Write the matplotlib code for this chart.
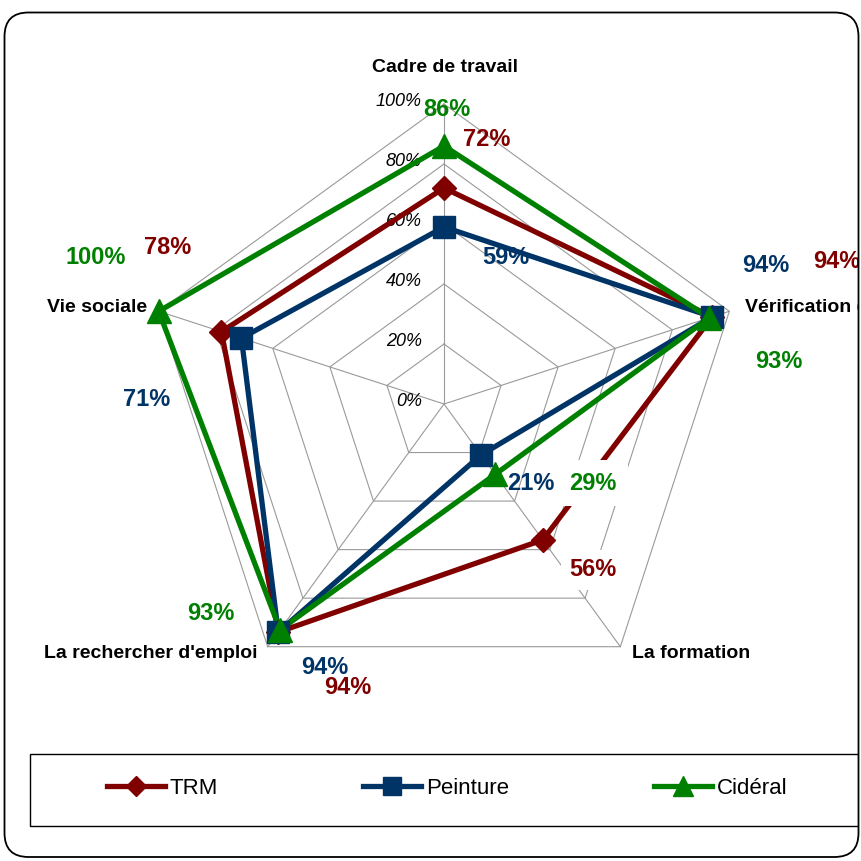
import numpy as np
import matplotlib
matplotlib.use("Agg")
import matplotlib.pyplot as plt
from matplotlib.patches import FancyBboxPatch, Rectangle
from matplotlib.lines import Line2D

plt.rcParams['font.family'] = ['Liberation Sans', 'DejaVu Sans']

# Axes du radar (sens horaire depuis le haut)
categories = ["Cadre de travail", "Vérification des acquis", "La formation",
              "La rechercher d'emploi", "Vie sociale"]
series_names = ["TRM", "Peinture", "Cidéral"]
trm = [72, 94, 56, 94, 78]
peinture = [59, 94, 21, 94, 71]
cideral = [86, 93, 29, 93, 100]
ticks = [0, 20, 40, 60, 80, 100]

colors = ["#800000", "#003366", "#008000"]
markers = ["D", "s", "^"]
msizes = [12.5, 16, 17.5]

W = H = 861
CX, CY, R = 444, 404, 300   # centre et rayon en pixels


def px(x, y):
    # pixels (origine en haut à gauche) -> unités du radar
    return (x - CX) / R, (CY - y) / R


fig = plt.figure(figsize=(W / 100, H / 100), dpi=100)
fig.patch.set_facecolor("white")
ax = fig.add_axes([0, 0, 1, 1])
ax.set_xlim(-CX / R, (W - CX) / R)
ax.set_ylim((CY - H) / R, CY / R)
ax.axis("off")

n = len(categories)
angles = np.deg2rad(90 - 360 / n * np.arange(n))

# grille pentagonale
grid_c = "#9a9a9a"
for t in ticks[1:]:
    r = t / 100
    xs = np.append(r * np.cos(angles), r * np.cos(angles[0]))
    ys = np.append(r * np.sin(angles), r * np.sin(angles[0]))
    ax.plot(xs, ys, color=grid_c, lw=0.8, zorder=1)
for a in angles:
    ax.plot([0, np.cos(a)], [0, np.sin(a)], color=grid_c, lw=0.8, zorder=1)

# graduations
for t in ticks:
    x, y = px(422, CY - R * t / 100 - 2)
    ax.text(x, y, f"{t}%", ha="right", va="center", fontsize=13,
            style="italic", color="black", zorder=2)

# séries
data = [trm, peinture, cideral]
for vals, c, m, ms in zip(data, colors, markers, msizes):
    r = np.array(vals) / 100
    xs = np.append(r * np.cos(angles), r[0] * np.cos(angles[0]))
    ys = np.append(r * np.sin(angles), r[0] * np.sin(angles[0]))
    ax.plot(xs, ys, color=c, lw=3.8, zorder=3, solid_joinstyle="miter")
    ax.plot(xs[:-1], ys[:-1], ls="none", marker=m, ms=ms, color=c,
            mec=c, mew=1, zorder=4)

# étiquettes des axes
cat_pos = [(445, 67, "center"), (745, 307, "left"), (632, 653, "left"),
           (258, 653, "right"), (147, 307, "right")]
for name, (x, y, ha) in zip(categories, cat_pos):
    xx, yy = px(x, y)
    ax.text(xx, yy, name, ha=ha, va="center", fontsize=14,
            fontweight="bold", color="black", zorder=5)

# étiquettes de valeurs : positions par série puis par axe
label_pos = [
    [(487, 140), (837, 262), (593, 570), (348, 688), (168, 247)],
    [(506, 258), (766, 265), (531, 483), (325, 668), (147, 400)],
    [(447, 110), (779, 362), (593, 483), (211, 613), (96, 257)],
]
boxed = {(0, 2): 0.35, (2, 2): 0.5}
for si, (vals, c) in enumerate(zip(data, colors)):
    for ci, v in enumerate(vals):
        x, y = px(*label_pos[si][ci])
        kw = {}
        if (si, ci) in boxed:
            kw["bbox"] = dict(boxstyle=f"square,pad={boxed[(si, ci)]}",
                              fc="white", ec="none")
        ax.text(x, y, f"{v}%", ha="center", va="center", fontsize=17,
                fontweight="bold", color=c, zorder=6, **kw)

# bande blanche à droite du cadre
fig.patches.append(Rectangle((858.5 / W, 0), 3 / W, 1, transform=fig.transFigure,
                             fc="white", ec="none", zorder=8))

# cadre arrondi
fig.patches.append(FancyBboxPatch((4.5 / W, 4 / H), 854 / W, 844.5 / H,
                                  boxstyle=f"round,pad=0,rounding_size={24 / W}",
                                  transform=fig.transFigure, fc="none",
                                  ec="black", lw=1.3, zorder=9))

# boîte de légende
fig.patches.append(Rectangle((30 / W, 1 - 826 / H), 850 / W, 72 / H,
                             transform=fig.transFigure, fc="white",
                             ec="black", lw=1.0, zorder=6))

handles = [Line2D([], [], color=c, lw=3.8, marker=m, ms=ms * 0.8, mec=c)
           for c, m, ms in zip(colors, markers, msizes)]
fs = 16
fpx = fs * 100 / 72
leg = fig.legend(handles, series_names, ncol=3, loc="center left",
                 bbox_to_anchor=(107 / W, 1 - 788 / H), frameon=False,
                 fontsize=fs, handlelength=58 / fpx, handletextpad=5 / fpx,
                 columnspacing=145 / fpx, borderpad=0, borderaxespad=0)
leg.set_zorder(7)

fig.savefig("out.png", dpi=100, facecolor="white")
